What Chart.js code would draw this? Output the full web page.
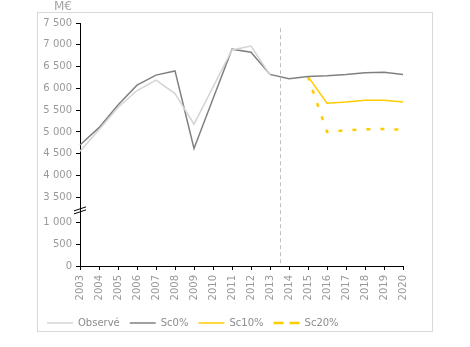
<!DOCTYPE html>
<html>
<head>
<meta charset="utf-8">
<script src="https://cdn.jsdelivr.net/npm/chart.js@4/dist/chart.umd.min.js"></script>
<style>
  html, body { margin: 0; padding: 0; background: #fff; }
  #wrap { width: 470px; height: 347px; }
</style>
</head>
<body>
<div id="wrap"><canvas id="c"></canvas></div>
<script>
const years = ['2003', '2004', '2005', '2006', '2007', '2008', '2009', '2010', '2011', '2012',
    '2013', '2014', '2015', '2016', '2017', '2018', '2019', '2020'];
const observe = [4560, 5050, 5560, 5950, 6190, 5880, 5180, 6030, 6880, 6970, 6310,
    null, null, null, null, null, null, null];
const sc0 = [4700, 5100, 5620, 6075, 6305, 6400, 4620, 5760, 6900, 6830, 6320,
    6220, 6270, 6290, 6320, 6360, 6370, 6320];
const sc10 = [null, null, null, null, null, null, null, null, null, null, null,
    null, 6270, 5660, 5690, 5730, 5730, 5690];
const sc20 = [null, null, null, null, null, null, null, null, null, null, null,
    null, 6270, 5000, 5040, 5060, 5070, 5050];
const yTickValues = [0, 500, 1000, 3500, 4000, 4500, 5000, 5500, 6000, 6500, 7000, 7500];
const yTickLabels = ['0', '500', '1 000', '3 500', '4 000', '4 500', '5 000', '5 500', '6 000', '6 500', '7 000', '7 500'];

// broken axis: values above the break are shifted down
const BREAK_FROM = 3500, BREAK_TO = 1575;
const disp = v => (v == null ? null : (v >= BREAK_FROM ? v - BREAK_FROM + BREAK_TO : v));

Chart.defaults.font.family = '"DejaVu Sans", Verdana, sans-serif';
Chart.defaults.font.size = 10;
Chart.defaults.color = '#999';

const frame = {
    id: 'frame',
    beforeDraw(chart) {
        const ctx = chart.ctx;
        ctx.save();
        ctx.strokeStyle = '#d9d9d9';
        ctx.lineWidth = 1;
        ctx.strokeRect(37.5, 12.5, 395, 319);
        ctx.restore();
    },
    afterDraw(chart) {
        const ctx = chart.ctx;
        const x = chart.scales.x, y = chart.scales.y;
        ctx.save();
        // separator between history and projection
        const sx = Math.round(x.getPixelForValue(10.5)) + 0.5;
        ctx.strokeStyle = '#bfbfbf';
        ctx.setLineDash([4, 3]);
        ctx.beginPath();
        ctx.moveTo(sx, y.getPixelForValue(disp(7380)));
        ctx.lineTo(sx, y.bottom);
        ctx.stroke();
        ctx.setLineDash([]);
        // axis break marks
        const bx = chart.chartArea.left, by = y.getPixelForValue((1000 + BREAK_TO) / 2);
        ctx.strokeStyle = '#000';
        ctx.lineWidth = 1;
        ctx.beginPath();
        ctx.moveTo(bx - 6, by + 1); ctx.lineTo(bx + 6, by - 3);
        ctx.moveTo(bx - 6, by + 4); ctx.lineTo(bx + 6, by);
        ctx.stroke();
        // unit
        ctx.fillStyle = '#a6a6a6';
        ctx.font = '12px "DejaVu Sans", sans-serif';
        ctx.textAlign = 'right';
        ctx.textBaseline = 'middle';
        ctx.fillText('M€', 72, 7);
        ctx.restore();
    }
};

new Chart(document.getElementById('c'), {
    type: 'line',
    data: {
        labels: years,
        datasets: [
            { label: 'Observé', data: observe.map(disp), borderColor: '#d4d4d4', borderWidth: 1.5 },
            { label: 'Sc0%', data: sc0.map(disp), borderColor: '#808080', borderWidth: 1.5 },
            { label: 'Sc10%', data: sc10.map(disp), borderColor: '#ffcc00', borderWidth: 1.5 },
            { label: 'Sc20%', data: sc20.map(disp), borderColor: '#ffcc00', borderWidth: 2.5, borderDash: [4, 10] },
        ],
    },
    options: {
        responsive: true,
        maintainAspectRatio: false,
        animation: false,
        layout: { padding: { left: 37, top: 23, right: 67, bottom: 9 } },
        elements: { point: { radius: 0 }, line: { tension: 0 } },
        plugins: {
            tooltip: { enabled: false },
            legend: {
                position: 'bottom',
                align: 'start',
                labels: {
                    usePointStyle: true,
                    pointStyle: 'line',
                    pointStyleWidth: 26,
                    padding: 10,
                    color: '#8c8c8c',
                    generateLabels(chart) {
                        const items = Chart.defaults.plugins.legend.labels.generateLabels(chart);
                        items.forEach(it => { if (it.text === 'Sc20%') it.lineDash = [10, 6]; });
                        return items;
                    },
                },
            },
        },
        scales: {
            x: {
                offset: false,
                afterFit(scale) { scale.height = 42; },
                grid: { display: true, drawOnChartArea: false, tickLength: 4, color: '#000' },
                border: { color: '#000' },
                ticks: { minRotation: 90, maxRotation: 90, autoSkip: false, padding: 5 },
            },
            y: {
                min: 0,
                max: disp(7500),
                afterFit(scale) { scale.width = 43; },
                afterBuildTicks(scale) { scale.ticks = yTickValues.map(v => ({ value: disp(v) })); },
                grid: { display: true, drawOnChartArea: false, tickLength: 4, color: '#000' },
                border: { color: '#000' },
                ticks: { autoSkip: false, padding: 4, callback: (v, i) => yTickLabels[i] },
            },
        },
    },
    plugins: [frame],
});
</script>
</body>
</html>
